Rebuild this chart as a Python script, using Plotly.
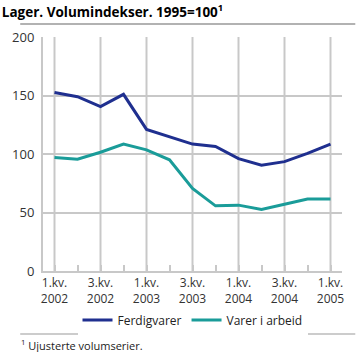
import plotly.graph_objects as go

quarters = ["1.kv. 2002", "2.kv. 2002", "3.kv. 2002", "4.kv. 2002",
            "1.kv. 2003", "2.kv. 2003", "3.kv. 2003", "4.kv. 2003",
            "1.kv. 2004", "2.kv. 2004", "3.kv. 2004", "4.kv. 2004",
            "1.kv. 2005"]
ferdigvarer = [152.5, 149, 140.5, 151, 121, 115, 108.5, 106.5, 96, 90.5, 93.5, 100.5, 108.5]
varer_i_arbeid = [97, 95.5, 101.5, 108.5, 103.5, 95, 70.5, 55.7, 56.3, 52.6, 57, 61.5, 61.5]
tick_labels = ["1.kv.<br>2002", "", "3.kv.<br>2002", "", "1.kv.<br>2003", "",
               "3.kv.<br>2003", "", "1.kv.<br>2004", "", "3.kv.<br>2004", "",
               "1.kv.<br>2005"]
y_ticks = [0, 50, 100, 150, 200]

x = list(range(len(quarters)))
font = "Open Sans"
grid = "#c8c8c8"

fig = go.Figure()
fig.add_trace(go.Scatter(x=x, y=ferdigvarer, mode="lines", name="Ferdigvarer",
                         line=dict(color="#1f2f8f", width=3)))
fig.add_trace(go.Scatter(x=x, y=varer_i_arbeid, mode="lines", name="Varer i arbeid",
                         line=dict(color="#1a9c99", width=3)))

L, R, T, B = 27, 342, 37, 271
W, H = 359, 352
pw, ph = R - L, B - T

def px(xp):
    return (xp - L) / pw

def py(yp):
    return (B - yp) / ph

# vertical grid lines at labelled quarters (drawn through the x scale)
vgrid = [dict(type="line", xref="x", yref="paper", x0=v, x1=v, y0=0, y1=1,
              layer="below", line=dict(color=grid, width=2))
         for v, t in zip(x, tick_labels) if t]

fig.update_layout(
    width=W, height=H,
    margin=dict(l=L, r=W - R, t=T, b=H - B),
    paper_bgcolor="white", plot_bgcolor="white",
    font=dict(family=font, size=12, color="#333333"),
    title=dict(text="<b>Lager. Volumindekser. 1995=100<sup>1</sup></b>",
               x=0.005, xanchor="left", y=1 - 12 / H, yanchor="middle",
               font=dict(family=font, size=13.5, color="#000000")),
    showlegend=True,
    legend=dict(orientation="h", x=0.5, xanchor="center", y=py(320), yanchor="middle",
                font=dict(family=font, size=12, color="#222222"),
                itemwidth=30, tracegroupgap=0),
    yaxis=dict(range=[0, 200], tickvals=y_ticks,
               showgrid=True, gridcolor=grid, gridwidth=2,
               showline=True, linecolor=grid, linewidth=2,
               ticks="", zeroline=False, ticklabelstandoff=4,
               tickfont=dict(family=font, size=13, color="#333333"),
               fixedrange=True),
    shapes=vgrid + [
        dict(type="line", xref="paper", yref="paper", x0=px(3), x1=px(356),
             y0=py(24), y1=py(24), line=dict(color="#999999", width=1.5)),
        dict(type="line", xref="paper", yref="paper", x0=px(3), x1=px(356),
             y0=py(334), y1=py(334), line=dict(color="#999999", width=1)),
    ],
    annotations=[
        dict(text="<sup>1</sup> Ujusterte volumserier.", xref="paper", yref="paper",
             x=px(2), xanchor="left", y=py(345), yanchor="middle", showarrow=False,
             font=dict(family=font, size=11, color="#222222")),
    ],
)
fig.update_xaxes(range=[-0.5, 12.5], tickmode="array",
                 tickvals=x, ticktext=tick_labels,
                 showgrid=False,
                 showline=True, linecolor=grid, linewidth=2,
                 ticks="inside", ticklen=6, tickwidth=2, tickcolor=grid,
                 zeroline=False,
                 tickfont=dict(family=font, size=12, color="#333333"),
                 fixedrange=True)

fig.write_html("out.html")
